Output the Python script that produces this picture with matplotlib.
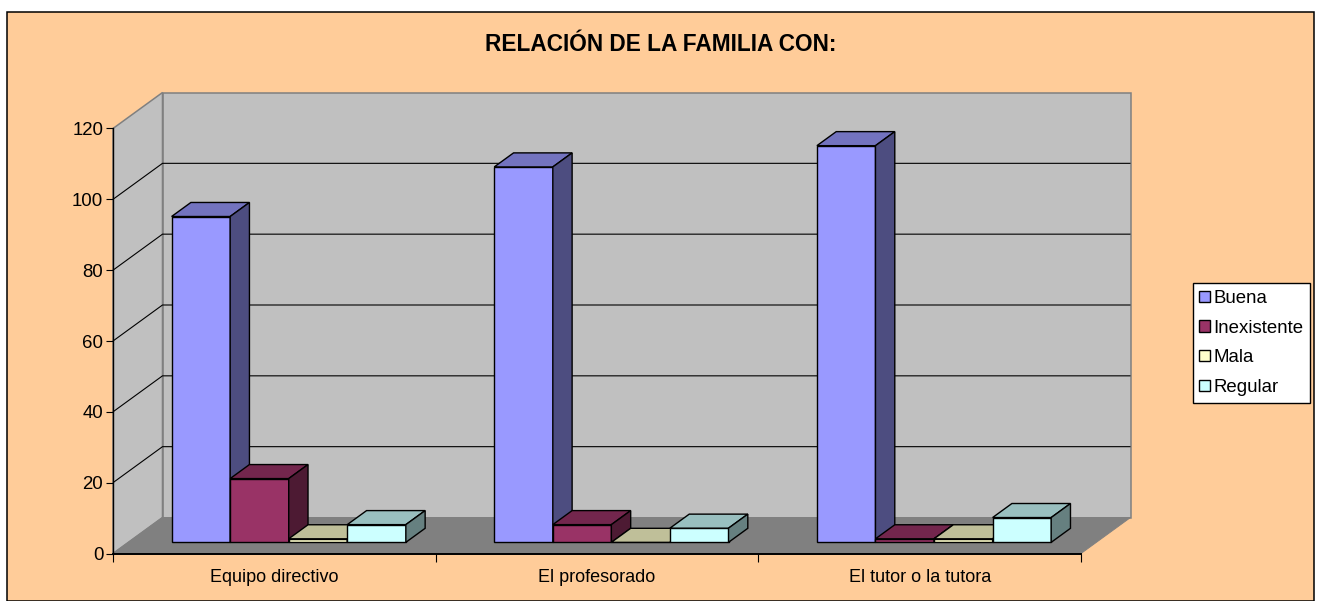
import matplotlib
matplotlib.use("Agg")
import matplotlib.pyplot as plt
from matplotlib.patches import Patch, Rectangle

categories = ["Equipo directivo", "El profesorado", "El tutor o la tutora"]
series = ["Buena", "Inexistente", "Mala", "Regular"]
buena = [92, 106, 112]
inexistente = [18, 5, 1]
mala = [1, 0, 1]
regular = [5, 4, 7]
values = [buena, inexistente, mala, regular]
yticks = [0, 20, 40, 60, 80, 100, 120]

front = ["#9999FF", "#993366", "#FFFFCC", "#CCFFFF"]
top = ["#7373BF", "#73264D", "#BFBF99", "#99BFBF"]
side = ["#4D4D80", "#4D1A33", "#808066", "#668080"]

W, H = 1322, 601
FS = 13.4
plt.rcParams["font.family"] = ["Liberation Sans", "DejaVu Sans"]
fig = plt.figure(figsize=(W / 100, H / 100), dpi=100, facecolor="white")
fig.patches.append(Rectangle((7 / W, 0), (1314 - 7) / W, (H - 12) / H, transform=fig.transFigure,
                             facecolor="#FFCC99", edgecolor="black", linewidth=1.1, zorder=-5))

L, R, B, T = 113, 1081, 553.5, 128.5
ax = fig.add_axes([L / W, (H - B) / H, (R - L) / W, (B - T) / H])
ax.set_facecolor("none")
ax.set_xlim(0, 3)
ax.set_ylim(0, 120)

DX = 49.5 / ((R - L) / 3)
DY = 36 / ((B - T) / 120)


def proj(x, y, d):
    return x + d * DX, y + d * DY


def poly(points, fc, ec, lw, z):
    xs, ys = zip(*[proj(*p) for p in points])
    ax.fill(xs, ys, facecolor=fc, edgecolor=ec, linewidth=lw, zorder=z,
            clip_on=False, joinstyle="miter")


def seg(points, color, lw, z):
    xs, ys = zip(*[proj(*p) for p in points])
    ax.plot(xs, ys, color=color, linewidth=lw, zorder=z, clip_on=False, solid_capstyle="butt")


YMAX = yticks[-1]
poly([(0, 0, 1), (3, 0, 1), (3, YMAX, 1), (0, YMAX, 1)], "#C0C0C0", "#808080", 1.1, 1)
poly([(0, 0, 0), (0, 0, 1), (0, YMAX, 1), (0, YMAX, 0)], "#C0C0C0", "#808080", 1.1, 1)
poly([(0, 0, 0), (3, 0, 0), (3, 0, 1), (0, 0, 1)], "#808080", "#808080", 0.7, 2)
for v in yticks[1:-1]:
    seg([(0, v, 0), (0, v, 1), (3, v, 1)], "black", 0.8, 2.5)

GAP = 0.134
BW = 0.1815
D0, D1 = 0.31, 0.70
z = 3.0
for c in range(len(categories)):
    for s in range(len(series)):
        x0 = c + GAP + s * BW
        x1 = x0 + BW
        v = values[s][c]
        poly([(x0, 0, D0), (x1, 0, D0), (x1, v, D0), (x0, v, D0)], front[s], "black", 1.0, z)
        poly([(x0, v, D0), (x1, v, D0), (x1, v, D1), (x0, v, D1)], top[s], "black", 1.0, z + 0.01)
        poly([(x1, 0, D0), (x1, 0, D1), (x1, v, D1), (x1, v, D0)], side[s], "black", 1.0, z + 0.02)
        z += 0.1

for sp in ("top", "right"):
    ax.spines[sp].set_visible(False)
ax.spines["left"].set_linewidth(1.0)
ax.spines["bottom"].set_linewidth(1.4)
ax.set_yticks(yticks)
ax.set_xticks(range(len(categories) + 1))
ax.set_xticklabels([])
ax.set_xticks([i + 0.5 for i in range(len(categories))], minor=True)
ax.set_xticklabels(categories, minor=True)
ax.tick_params(axis="x", which="major", length=6, width=0.8)
ax.tick_params(axis="x", which="minor", length=0, pad=11, labelsize=FS - 0.4)
ax.tick_params(axis="y", length=5, width=0.8, pad=2, labelsize=FS)

fig.text(660.5 / W, 1 - 44.5 / H, "RELACIÓN DE LA FAMILIA CON:", fontsize=16.3, fontweight="bold",
         ha="center", va="center")

handles = [Patch(facecolor=f, edgecolor="black", linewidth=1.0) for f in front]
fig.legend(handles, series, loc="upper left", bbox_to_anchor=(1192.7 / W, 1 - 283.3 / H),
           bbox_transform=fig.transFigure, frameon=True, fancybox=False, edgecolor="black",
           facecolor="white", framealpha=1, fontsize=FS, borderaxespad=0, borderpad=0.36,
           labelspacing=0.68, handlelength=0.55, handleheight=0.55, handletextpad=0.2)

fig.savefig("out.png", dpi=100, facecolor="white")
